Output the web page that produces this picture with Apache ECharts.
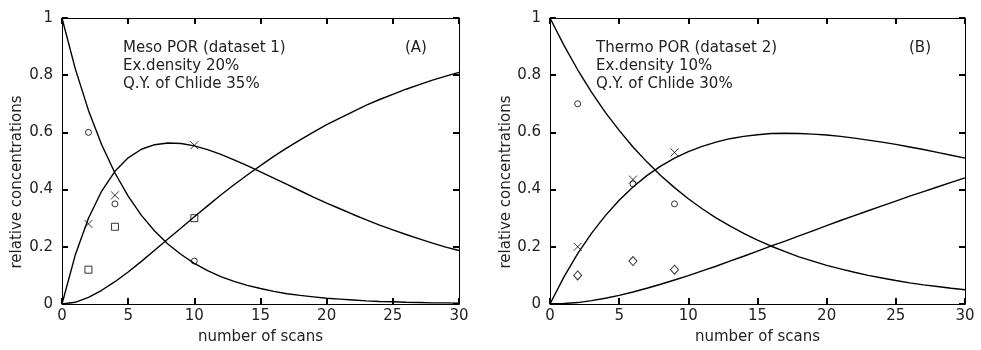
<!DOCTYPE html>
<html>
<head>
<meta charset="utf-8">
<script src="https://cdn.jsdelivr.net/npm/echarts@6/dist/echarts.min.js"></script>
</head>
<body style="margin:0">
<div id="c" style="width:981px;height:350px"></div>
<script>
// ---- data ----
var scans = [0,1,2,3,4,5,6,7,8,9,10,11,12,13,14,15,16,17,18,19,20,21,22,23,24,25,26,27,28,29,30];

// Panel A: Meso POR (dataset 1) model curves
var mesoPchlide = [1,0.823,0.677,0.557,0.458,0.377,0.310,0.255,0.210,0.173,0.142,0.117,0.096,0.079,0.065,0.054,0.044,0.036,0.030,0.025,0.020,0.017,0.014,0.011,0.009,0.008,0.006,0.005,0.004,0.004,0.003];
var mesoInter   = [0,0.171,0.300,0.395,0.464,0.511,0.541,0.557,0.563,0.561,0.553,0.540,0.523,0.504,0.484,0.462,0.440,0.418,0.396,0.374,0.353,0.333,0.313,0.294,0.276,0.259,0.243,0.228,0.213,0.199,0.187];
var mesoChlide  = [0,0.006,0.023,0.048,0.078,0.112,0.149,0.188,0.227,0.266,0.305,0.343,0.381,0.417,0.451,0.484,0.516,0.546,0.574,0.601,0.627,0.650,0.673,0.695,0.715,0.733,0.751,0.767,0.783,0.797,0.810];
// Panel A measured points
var mesoPtsX      = [2,4,10];
var mesoPtsCircle = [0.60,0.35,0.15];
var mesoPtsCross  = [0.28,0.38,0.555];
var mesoPtsSquare = [0.12,0.27,0.30];

// Panel B: Thermo POR (dataset 2) model curves
var thermoPchlide = [1,0.905,0.819,0.741,0.670,0.607,0.549,0.497,0.449,0.407,0.368,0.333,0.301,0.273,0.247,0.223,0.202,0.183,0.165,0.150,0.135,0.123,0.111,0.100,0.091,0.082,0.074,0.067,0.061,0.055,0.050];
var thermoInter   = [0,0.094,0.176,0.247,0.309,0.363,0.409,0.449,0.482,0.510,0.533,0.551,0.566,0.578,0.586,0.592,0.596,0.597,0.596,0.594,0.591,0.586,0.580,0.573,0.566,0.558,0.549,0.540,0.530,0.520,0.510];
var thermoChlide  = [0,0.002,0.005,0.012,0.020,0.030,0.042,0.055,0.069,0.084,0.099,0.116,0.132,0.150,0.167,0.185,0.203,0.220,0.238,0.256,0.274,0.292,0.309,0.326,0.343,0.360,0.377,0.393,0.409,0.425,0.441];
// Panel B measured points
var thermoPtsX       = [2,6,9];
var thermoPtsCircle  = [0.70,0.42,0.35];
var thermoPtsCross   = [0.20,0.435,0.53];
var thermoPtsDiamond = [0.10,0.15,0.12];

var panelTitles = [
  ['Meso POR (dataset 1)','Ex.density 20%','Q.Y. of Chlide 35%'],
  ['Thermo POR (dataset 2)','Ex.density 10%','Q.Y. of Chlide 30%']
];
var panelTags = ['(A)','(B)'];
var xName = 'number of scans';
var yName = 'relative concentrations';

// ---- chart ----
var FONT = 'DejaVu Sans';
function zip(xs, ys){ return xs.map(function(x,i){ return [x, ys[i]]; }); }
function tk(){ return {show:true, inside:true, length:6, lineStyle:{color:'#000', width:2}}; }

var grids = [
  {left:62, top:18, width:397, height:291},
  {left:550, top:18, width:415, height:291}
];
var xA = [], yA = [];
for (var g = 0; g < 2; g++){
  var xb = {type:'value', gridIndex:g, min:0, max:30, interval:5, position:'bottom',
    axisLine:{show:true, onZero:false, lineStyle:{color:'#000'}}, axisTick:tk(), splitLine:{show:false},
    name:xName, nameLocation:'middle', nameGap:26,
    nameTextStyle:{fontFamily:FONT, fontSize:15, color:'#222'},
    axisLabel:{fontFamily:FONT, fontSize:15, color:'#222', margin:5}};
  var xt = {type:'value', gridIndex:g, min:0, max:30, interval:5, position:'top',
    axisLine:{show:true, onZero:false, lineStyle:{color:'#000'}}, axisTick:tk(), splitLine:{show:false},
    axisLabel:{show:false}};
  var yl = {type:'value', gridIndex:g, min:0, max:1, interval:0.2, position:'left',
    axisLine:{show:true, onZero:false, lineStyle:{color:'#000'}}, axisTick:tk(), splitLine:{show:false},
    axisLabel:{fontFamily:FONT, fontSize:15, color:'#222', margin:9}};
  var yr = {type:'value', gridIndex:g, min:0, max:1, interval:0.2, position:'right',
    axisLine:{show:true, onZero:false, lineStyle:{color:'#000'}}, axisTick:tk(), splitLine:{show:false},
    axisLabel:{show:false}};
  xA.push(xb, xt); yA.push(yl, yr);
}

function curve(g, ys){
  return {type:'line', xAxisIndex:g*2, yAxisIndex:g*2, data:zip(scans, ys),
    showSymbol:false, symbol:'none', lineStyle:{color:'#000', width:1.4}};
}
var CROSS = 'path://M0,0L10,10M10,0L0,10';
function pts(g, xs, ys, symbol, size){
  return {type:'scatter', xAxisIndex:g*2, yAxisIndex:g*2, data:zip(xs, ys),
    symbol:symbol, symbolSize:size,
    itemStyle:{color:'rgba(0,0,0,0)', borderColor:'#000', borderWidth:1}};
}
var ser = [
  curve(0, mesoPchlide), curve(0, mesoInter), curve(0, mesoChlide),
  pts(0, mesoPtsX, mesoPtsCircle, 'circle', 6),
  pts(0, mesoPtsX, mesoPtsCross, CROSS, 8),
  pts(0, mesoPtsX, mesoPtsSquare, 'rect', 7),
  curve(1, thermoPchlide), curve(1, thermoInter), curve(1, thermoChlide),
  pts(1, thermoPtsX, thermoPtsCircle, 'circle', 6),
  pts(1, thermoPtsX, thermoPtsCross, CROSS, 8),
  pts(1, thermoPtsX, thermoPtsDiamond, 'diamond', [8,9])
];

var gr = [];
var textX = [123, 596], tagX = [405, 909], yNameX = [17, 506];
for (var h = 0; h < 2; h++){
  for (var i = 0; i < 3; i++){
    gr.push({type:'text', x:textX[h], y:48 + i*18,
      style:{text:panelTitles[h][i], fontFamily:FONT, fontSize:15, fill:'#222', verticalAlign:'middle'}});
  }
  gr.push({type:'text', x:tagX[h], y:48,
    style:{text:panelTags[h], fontFamily:FONT, fontSize:15, fill:'#222', verticalAlign:'middle'}});
  gr.push({type:'text', x:yNameX[h], y:182, rotation:Math.PI/2,
    style:{text:yName, fontFamily:FONT, fontSize:15, fill:'#222', align:'center', verticalAlign:'middle'}});
}

echarts.init(document.getElementById('c')).setOption({
  animation:false, grid:grids, xAxis:xA, yAxis:yA, series:ser, graphic:gr
});
</script>
</body>
</html>
